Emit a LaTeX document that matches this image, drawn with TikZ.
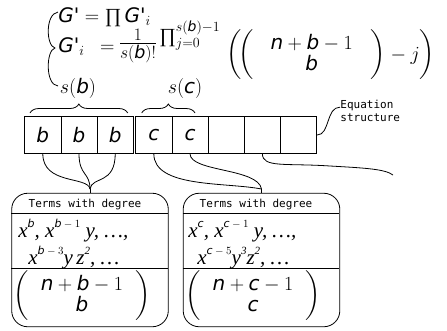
\RequirePackage{fix-cm}
\documentclass[tikz,border=0pt]{standalone}
\usepackage{amsmath}
\usepackage{fontspec}
\usetikzlibrary{decorations.pathreplacing}
\newfontfamily\dvs{DejaVu Sans}
\newfontfamily\dvm{DejaVu Sans Mono}
\newfontfamily\lsr{Liberation Serif}
\newcommand\vi[1]{\text{\dvs\itshape #1}}
\newcommand\tq{\text{\dvs\char"0027}}
\newcommand\Sp[1]{\raisebox{10pt}{\fontsize{11}{11}\selectfont #1}}
\newcommand\bigp{\vrule height 31pt depth 21pt width 0pt}
\newcommand\smp{\vrule height 27pt depth 17pt width 0pt}
\newcommand\PiOp{\mathop{\text{\lsr\symbol{"220F}}}\nolimits}
\begin{document}
\begin{tikzpicture}[x=1pt,y=-1pt, line width=0.8pt,
  cell/.style={draw, minimum width=36.2pt, minimum height=36.6pt, inner sep=0pt, font=\fontsize{20}{24}\selectfont\dvs\itshape},
  big/.style={font=\fontsize{20}{24}\selectfont, inner sep=0pt},
  mono/.style={font=\fontsize{11}{13}\selectfont\dvm, inner sep=0pt},
  serx/.style={font=\fontsize{21}{24}\selectfont\lsr\itshape, inner sep=0pt},
  tbox/.style={draw, rounded corners=16pt, minimum width=156.6pt, minimum height=133.5pt, inner sep=0pt},
  brc/.style={decorate, decoration={brace, amplitude=9pt}}]
\useasboundingbox (0,0) rectangle (447,330);
% top equations
\node[big, anchor=base west] (eq1) at (58,22) {$\vi{G}\tq = \PiOp \vi{G}\tq_i$};
\node[big, anchor=base west] (eq2) at (58,52) {$\vi{G}\tq_i \enspace=$};
\node[big, font=\fontsize{25}{30}\selectfont] (frac) at (138,46) {$\tfrac{1}{s(\vi{b})!}$};
\node[big, anchor=base west] (prod) at (159,42) {$\PiOp_{j=0}^{s(\vi{b})-1}$};
\node[big, anchor=west] (binA) at (226,55) {$\left(\bigp\!\left(\bigp\hspace{17pt}\begin{matrix}\vi{n}+\vi{b}-1\\[-3pt]\vi{b}\end{matrix}\hspace{18pt}\right)-j\right)$};
\node[big] (sb) at (78,88) {$s(\vi{b})$};
\node[big] (sc) at (185,88) {$s(\vi{c})$};
% left curly
\coordinate (k1) at (58,12);
\coordinate (k2) at (55,48);
\coordinate (k3) at (58,86);
\draw (k1) .. controls (45,14) and (46,46) .. (k2) .. controls (46,50) and (45,85) .. (k3);
% cells
\node[cell] (c1) at (42.8,135) {b};
\node[cell] (c2) at (79.0,135) {b};
\node[cell] (c3) at (115.2,135) {b};
\node[cell] (c4) at (153.8,135) {c};
\node[cell] (c5) at (190.0,135) {c};
\node[cell] (c6) at (226.2,135) {};
\node[cell] (c7) at (262.4,135) {};
\node[cell] (c8) at (298.6,135) {};
% braces
\draw[brc] (30,113) -- (127.7,113);
\draw[brc] (141.7,113) -- (195,113);
% equation structure
\node[mono, anchor=north west, align=left] (eqs) at (340,100) {Equation\\structure};
\draw (c8.east) .. controls (330,135) and (326,107) .. ([yshift=4pt]eqs.west);
\coordinate (fe) at (393,175);
\draw (c7.south) .. controls (262.4,168) and (285,163) .. (330,166) .. controls (365,168) and (385,169) .. (fe);
% boxes
\node[tbox] (box1) at (90,260) {};
\node[tbox] (box2) at (261.5,260) {};
\draw (box1.west) ++(0,-46.7) -- ++(156.6,0);
\draw (box1.west) ++(0,8) -- ++(156.6,0);
\draw (box2.west) ++(0,-46.7) -- ++(156.6,0);
\draw (box2.west) ++(0,8) -- ++(156.6,0);
\node[mono] (h1) at (85,204) {Terms with degree};
\node[mono] (h2) at (256,204) {Terms with degree};
\node[serx, anchor=base west] (l11) at (18,237) {x\Sp{$\vi{b}$}, x\Sp{$\vi{b}-1$} y, \ldots,};
\node[serx, anchor=base west] (l12) at (28,264) {x\Sp{$\vi{b}-3$}y\,z\Sp{2}, \ldots};
\node[serx, anchor=base west] (l21) at (188,237) {x\Sp{$\vi{c}$}, x\Sp{$\vi{c}-1$} y, \ldots,};
\node[serx, anchor=base west] (l22) at (197,264) {x\Sp{$\vi{c}-5$}y\Sp{3}z\Sp{2}, \ldots};
\node[big] (bn1) at (82,296) {$\left(\smp\hspace{12pt}\begin{matrix}\vi{n}+\vi{b}-1\\[-3pt]\vi{b}\end{matrix}\hspace{12pt}\right)$};
\node[big] (bn2) at (253,296) {$\left(\smp\hspace{12pt}\begin{matrix}\vi{n}+\vi{c}-1\\[-3pt]\vi{c}\end{matrix}\hspace{12pt}\right)$};
% connectors
\coordinate (jb) at (90,189);
\draw (c1.south) .. controls (42.8,185) and (88,176) .. (jb);
\draw (c2.south) .. controls (79,176) and (90,172) .. (jb);
\draw (c3.south) .. controls (115.2,185) and (92,176) .. (jb);
\draw (jb) -- (box1.north);
\coordinate (jc) at (261.5,189);
\draw (c4.south) .. controls (153.8,188) and (225,182) .. (jc);
\draw (c5.south) .. controls (190,172) and (258,168) .. (jc);
\draw (jc) -- (box2.north);
\end{tikzpicture}
\end{document}
